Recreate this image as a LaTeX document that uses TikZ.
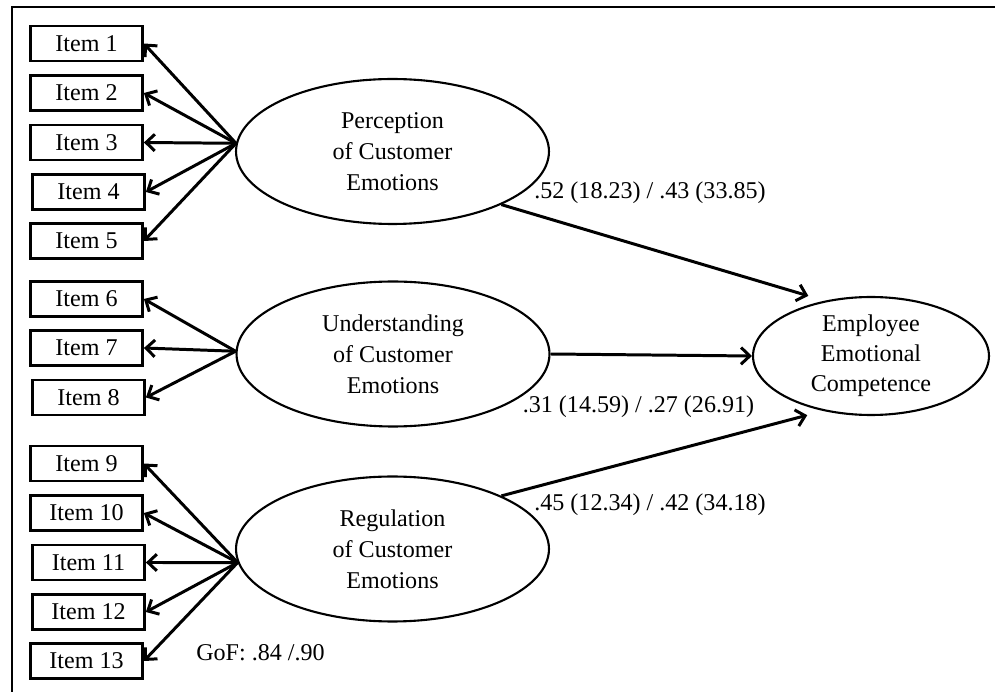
\documentclass[tikz,border=0pt]{standalone}
\usepackage{fontspec}
\setmainfont{Liberation Serif}
\usetikzlibrary{shapes.geometric}
\usetikzlibrary{arrows.meta}

\begin{document}
\begin{tikzpicture}[x=0.02cm, y=-0.02cm]
        % ================= styles =================
        \tikzset{
            % indicator boxes
            item/.style={rectangle, draw=black, line width=1.6pt, minimum width=2.24cm, minimum height=0.70cm, inner sep=0pt, font=\fontsize{13.7}{16}\selectfont},
            % latent constructs
            latent/.style={ellipse, draw=black, line width=1.2pt, minimum width=6.26cm, minimum height=2.90cm, inner sep=0pt, align=center, font=\fontsize{13.7}{17.6}\selectfont},
            coef/.style={inner sep=0pt, font=\fontsize{13.7}{16}\selectfont},
            arr/.style={line width=1.7pt, -{Straight Barb[length=5pt, width=9.5pt]}}
        }
        \useasboundingbox (0,0) rectangle (995,692);

        % frame (top and left only)
        \draw[line width=1.6pt] (12,692) -- (12,7) -- (995,7);

        % ================= latent variables =================
        \node[latent] (pce) at (392.5,151.5) {Perception\\of Customer\\Emotions};
        \node[latent] (uce) at (393,354)     {Understanding\\of Customer\\Emotions};
        \node[latent] (rce) at (392.5,549)   {Regulation\\of Customer\\Emotions};
        \node[latent, minimum width=4.72cm, minimum height=2.36cm, font=\fontsize{13.7}{17}\selectfont]
            (eec) at (871,356) {Employee\\Emotional\\Competence};

        % ================= items =================
        \node[item] (i1)  at (86.5,43.5)  {Item 1};
        \node[item] (i2)  at (86.5,93)    {Item 2};
        \node[item] (i3)  at (86.5,142.5) {Item 3};
        \node[item] (i4)  at (88.5,192)   {Item 4};
        \node[item] (i5)  at (86.5,241)   {Item 5};
        \node[item] (i6)  at (86.5,299)   {Item 6};
        \node[item] (i7)  at (86.5,348)   {Item 7};
        \node[item] (i8)  at (88.5,397.5) {Item 8};
        \node[item] (i9)  at (86.5,463.5) {Item 9};
        \node[item] (i10) at (86.5,513)   {Item 10};
        \node[item] (i11) at (88.5,562.5) {Item 11};
        \node[item] (i12) at (88.5,612)   {Item 12};
        \node[item] (i13) at (86.5,661)   {Item 13};

        % ================= loadings =================
        \foreach \x in {i1,i2,i3,i4,i5} {
            \draw[arr] (pce.177) -- (\x.east);
        }
        \foreach \x in {i6,i7,i8} {
            \draw[arr] (uce.179) -- (\x.east);
        }
        \foreach \x in {i9,i10,i11,i12,i13} {
            \draw[arr] (rce.185) -- (\x.east);
        }

        % ================= paths =================
        \draw[arr, shorten >=0.34cm] (pce.-26) -- (eec.130);
        \draw[arr] (uce.east) -- (eec.west);
        \draw[arr, shorten >=0.33cm] (rce.26) -- (eec.229);

        \node[coef] (c1) at (650,193)   {.52 (18.23) / .43 (33.85)};
        \node[coef] (c2) at (638.5,407) {.31 (14.59) / .27 (26.91)};
        \node[coef] (c3) at (650,505)   {.45 (12.34) / .42 (34.18)};
        \node[coef] (gof) at (260.5,653) {GoF: .84 /.90};

\end{tikzpicture}
\end{document}
